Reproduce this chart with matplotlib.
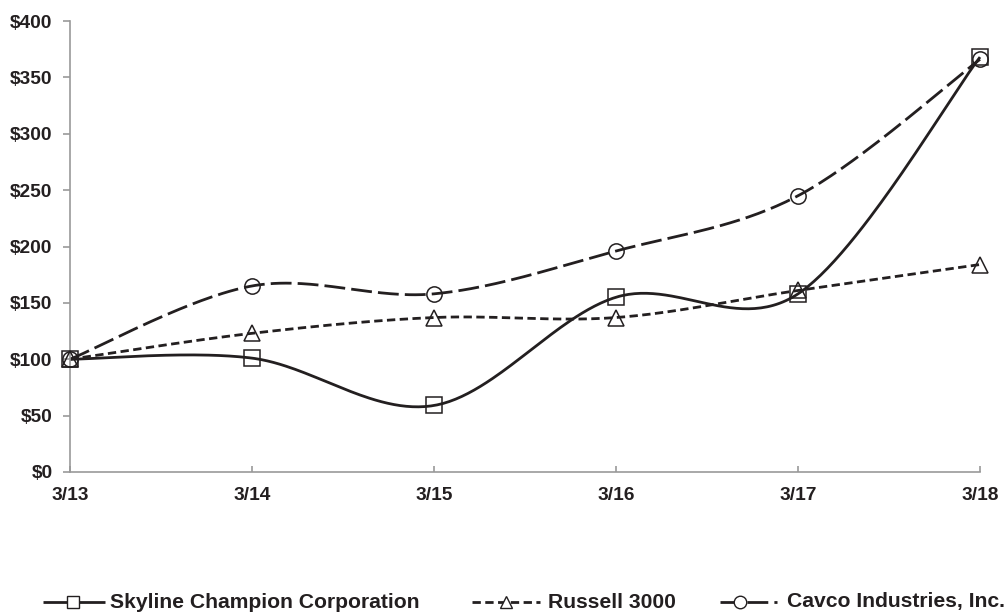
import numpy as np
import matplotlib
matplotlib.use("Agg")
import matplotlib.pyplot as plt
from matplotlib.lines import Line2D

plt.rcParams['font.family'] = ['Liberation Sans', 'DejaVu Sans']
plt.rcParams['font.weight'] = 'bold'

categories = ["3/13", "3/14", "3/15", "3/16", "3/17", "3/18"]
skyline = [100, 101, 59, 155, 158, 368]
russell = [100, 123, 137, 137, 161, 184]
cavco = [100, 165, 158, 196, 245, 366]
y_ticks = [0, 50, 100, 150, 200, 250, 300, 350, 400]
y_labels = ["$" + str(v) for v in y_ticks]

INK = "#231f20"


def smooth(xs, ys, n=60):
    xs = np.asarray(xs, float)
    ys = np.asarray(ys, float)
    P = np.column_stack([xs, ys])
    out = []
    m = len(P)
    for i in range(m - 1):
        p0 = P[i - 1] if i > 0 else P[i]
        p1 = P[i]
        p2 = P[i + 1]
        p3 = P[i + 2] if i + 2 < m else P[i + 1]
        c1 = p1 + (p2 - p0) / 6.0
        c2 = p2 - (p3 - p1) / 6.0
        t = np.linspace(0, 1, n)[:, None]
        b = ((1 - t) ** 3) * p1 + 3 * ((1 - t) ** 2) * t * c1 + 3 * (1 - t) * t ** 2 * c2 + t ** 3 * p2
        out.append(b if i == 0 else b[1:])
    B = np.vstack(out)
    return B[:, 0], B[:, 1]


fig = plt.figure(figsize=(10.06, 6.13), dpi=100)
W, H = 1006, 613
ax = fig.add_axes([70 / W, (H - 472) / H, 910 / W, 451 / H])

x = np.arange(len(categories))
lw = 2.0
ls_solid = (0, ())
ls_short = (0, (3, 1.6))
ls_long = (0, (7.5, 2.2))
series = [
    (skyline, 's', ls_solid),
    (russell, '^', ls_short),
    (cavco, 'o', ls_long),
]
for ys, mk, ls in series:
    sx, sy = smooth(x, ys)
    ax.plot(sx, sy, color=INK, lw=lw, linestyle=ls, zorder=2, clip_on=False)
    ax.plot(x, ys, linestyle='none', marker=mk, markersize=11,
            markerfacecolor='none', markeredgecolor=INK, markeredgewidth=1.1, zorder=3,
            clip_on=False)

ax.set_xlim(0, len(categories) - 1)
ax.set_ylim(0, 400)
ax.set_xticks(x)
ax.set_xticklabels(categories)
ax.set_yticks(y_ticks)
ax.set_yticklabels(y_labels)
for s in ['top', 'right']:
    ax.spines[s].set_visible(False)
for s in ['left', 'bottom']:
    ax.spines[s].set_color('#999999')
    ax.spines[s].set_linewidth(1.2)
ax.tick_params(axis='y', direction='out', length=5, color='#999999', width=1.2,
               labelsize=13.8, labelcolor=INK, pad=7.5)
ax.tick_params(axis='x', direction='in', length=4, color='#999999', width=1.2,
               labelsize=13.8, labelcolor=INK, pad=10.5)
for lab in ax.get_xticklabels() + ax.get_yticklabels():
    lab.set_fontweight('bold')

# manual legend (pixel positions of handle start, marker, handle end, text start)
ly = 1 - 602 / H
entries = [
    (43, 73, 105, 110, 's', ls_solid, "Skyline Champion Corporation"),
    (472, 506, 540, 548, '^', ls_short, "Russell 3000"),
    (720, 740, 777, 787, 'o', ls_long, "Cavco Industries, Inc."),
]
for x0, xm, x1, tx, mk, ls, name in entries:
    fig.add_artist(Line2D([x0 / W, x1 / W], [ly, ly], transform=fig.transFigure,
                          color=INK, lw=lw, linestyle=ls))
    fig.add_artist(Line2D([xm / W], [ly], transform=fig.transFigure,
                          marker=mk, markersize=9, markerfacecolor='white',
                          markeredgecolor=INK, markeredgewidth=1.0, linestyle='none'))
    fig.text(tx / W, ly, name, fontsize=15.2, fontweight='bold', color=INK,
             va='center', ha='left')

fig.savefig("out.png", dpi=100)
